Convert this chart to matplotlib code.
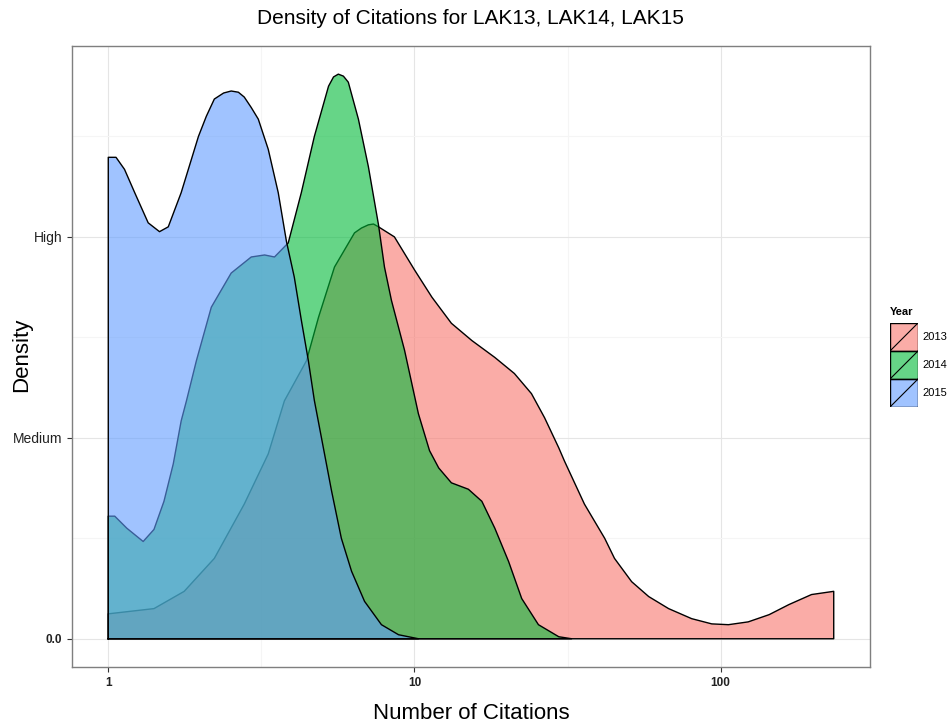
import matplotlib
matplotlib.use("Agg")
import matplotlib.pyplot as plt
from matplotlib.patches import Rectangle
import numpy as np

plt.rcParams['font.family'] = ['Liberation Sans', 'DejaVu Sans']

# density curves (x = number of citations)
years = ["2013", "2014", "2015"]
colors = ["#F8766D", "#00BA38", "#619CFF"]

x_2013 = [1.0, 1.41, 1.77, 2.22, 2.78, 3.33, 3.76, 4.44, 4.86, 5.48, 6.37, 6.71, 7.07, 7.35,
          7.63, 8.6, 10.0, 11.4, 13.2, 15.4, 18.3, 21.2, 24.1, 26.6, 29.6, 30.9,
          35.9, 41.8, 45.0, 51.2, 58.2, 67.6, 80.4, 93.5, 106, 123, 144, 167, 198, 234]
y_2013 = [0.062, 0.075, 0.118, 0.20, 0.335, 0.46, 0.592, 0.692, 0.80, 0.925, 1.01, 1.022, 1.03, 1.032,
          1.025, 1.0, 0.918, 0.85, 0.785, 0.742, 0.70, 0.66, 0.61, 0.55, 0.475, 0.442,
          0.335, 0.25, 0.20, 0.142, 0.105, 0.075, 0.05, 0.037, 0.035, 0.042, 0.06, 0.085, 0.11, 0.118]

x_2014 = [1.0, 1.05, 1.15, 1.30, 1.41, 1.52, 1.63, 1.73, 1.80, 1.94, 2.17, 2.52, 2.93,
          3.24, 3.49, 3.87, 4.27, 4.71, 5.24, 5.44, 5.64, 5.86, 6.08, 6.56, 7.07, 7.63, 7.98, 8.41,
          9.28, 10.3, 11.2, 12.0, 13.2, 15.0, 16.6, 18.3, 20.3, 22.4, 25.4, 29.6, 32.6]
y_2014 = [0.305, 0.305, 0.275, 0.242, 0.272, 0.342, 0.435, 0.542, 0.592, 0.692, 0.825, 0.91, 0.95,
          0.955, 0.95, 0.985, 1.11, 1.25, 1.375, 1.398, 1.405, 1.40, 1.385, 1.293, 1.175, 1.03, 0.925, 0.842,
          0.718, 0.56, 0.468, 0.425, 0.388, 0.372, 0.342, 0.275, 0.192, 0.10, 0.035, 0.005, 0.0]

x_2015 = [1.0, 1.06, 1.13, 1.22, 1.35, 1.47, 1.57, 1.73, 1.97, 2.09, 2.22, 2.38, 2.52, 2.66,
          2.78, 2.93, 3.09, 3.33, 3.59, 3.82, 4.05, 4.27, 4.50, 4.71, 5.36, 5.77, 6.23, 6.87,
          7.8, 8.87, 10.3]
y_2015 = [1.198, 1.198, 1.168, 1.11, 1.035, 1.013, 1.025, 1.11, 1.25, 1.30, 1.343, 1.358, 1.363, 1.36,
          1.348, 1.322, 1.293, 1.218, 1.11, 0.988, 0.90, 0.793, 0.693, 0.593, 0.368, 0.25, 0.168, 0.093,
          0.035, 0.01, 0.0]

xs = [x_2013, x_2014, x_2015]
ys = [y_2013, y_2014, y_2015]

y_ticks = [0.0, 0.5, 1.0]
y_labels = ["0.0", "Medium", "High"]
x_ticks = [1, 10, 100]

fig = plt.figure(figsize=(9.52, 7.25), dpi=100)
ax = fig.add_axes([72 / 952, 58 / 725, 798 / 952, 621 / 725])

for x, y, c in zip(xs, ys, colors):
    px = np.r_[x[0], x, x[-1], x[0]]
    py = np.r_[0, y, 0, 0]
    ax.fill(px, py, facecolor=c, alpha=0.6, edgecolor="none", zorder=3)
    ax.plot(px, py, color="black", lw=1.0, zorder=3, solid_joinstyle="round")

ax.set_xscale("log")
lo, hi = np.log10(1.0), np.log10(234)
pad = (hi - lo) * 0.05
ax.set_xlim(10 ** (lo - pad), 10 ** (hi + pad))
ax.set_ylim(-0.0703, 1.475)

ax.set_xticks(x_ticks)
ax.set_xticklabels([str(t) for t in x_ticks], fontweight="bold", fontsize=8.5)
ax.set_xticks([10 ** 0.5, 10 ** 1.5], minor=True)
ax.set_xticklabels([], minor=True)
ax.set_yticks(y_ticks)
ax.set_yticklabels(y_labels, fontsize=10)
ax.get_yticklabels()[0].set_fontweight("bold")
ax.get_yticklabels()[0].set_fontsize(8.5)
ax.set_yticks([0.25, 0.75, 1.25], minor=True)

ax.grid(True, which="major", color="#E5E5E5", lw=0.8, zorder=0)
ax.grid(True, which="minor", color="#F5F5F5", lw=0.8, zorder=0)
ax.tick_params(which="major", length=3.5, color="#333333", labelcolor="#222222")
ax.tick_params(which="minor", length=0)
for s in ax.spines.values():
    s.set_color("#7F7F7F")
    s.set_linewidth(1.0)

ax.set_xlabel("Number of Citations", fontsize=16, labelpad=10)
fig.text(22 / 952, 1 - 355 / 725, "Density", fontsize=16, rotation=90,
         ha="center", va="center")
fig.text(470 / 952, 1 - 19 / 725, "Density of Citations for LAK13, LAK14, LAK15",
         fontsize=15, ha="center", va="center")

# legend drawn by hand: boxes with a diagonal slash like ggplot
lax = fig.add_axes([890 / 952, (725 - 407) / 725, 28 / 952, 84 / 725])
lax.set_xlim(0, 1)
lax.set_ylim(0, 3)
lax.axis("off")
for i, (yr, c) in enumerate(zip(years, colors)):
    y0 = 2 - i
    lax.add_patch(Rectangle((0, y0), 1, 1, facecolor=c, alpha=0.6, edgecolor="none"))
    lax.add_patch(Rectangle((0, y0), 1, 1, facecolor="none", edgecolor="black", lw=1.0))
    lax.plot([0, 1], [y0, y0 + 1], color="black", lw=0.8)
    lax.text(1.15, y0 + 0.5, yr, fontsize=8, va="center", ha="left")
lax.text(0, 3.2, "Year", fontsize=8, fontweight="bold", va="bottom", ha="left")

fig.savefig("out.png", dpi=100)
